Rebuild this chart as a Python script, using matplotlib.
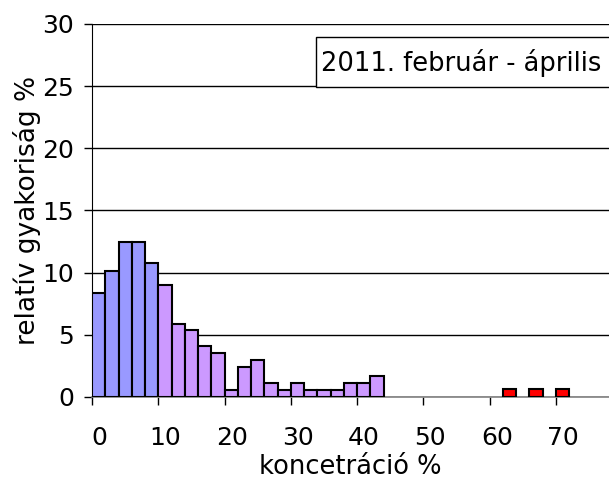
import matplotlib
matplotlib.use("Agg")
import matplotlib.pyplot as plt
import matplotlib.transforms as mtransforms
from matplotlib.patches import Rectangle

# histogram data, bins of width 2 (%)
blue_left = [0, 2, 4, 6, 8]
blue_vals = [8.4, 10.1, 12.5, 12.5, 10.8]
purple_left = [10, 12, 14, 16, 18, 20, 22, 24, 26, 28, 30,
               32, 34, 36, 38, 40, 42]
purple_vals = [9.0, 5.9, 5.4, 4.1, 3.5, 0.6, 2.4, 3.0, 1.1, 0.6, 1.1,
               0.6, 0.6, 0.6, 1.1, 1.1, 1.7]
red_left = [62, 66, 70]
red_vals = [0.65, 0.65, 0.65]
bin_width = 2

xticks = [0, 10, 20, 30, 40, 50, 60, 70]
yticks = [0, 5, 10, 15, 20, 25, 30]
title = "2011. február - április"

plt.rcParams['font.family'] = ['DejaVu Sans']

fig = plt.figure(figsize=(6.09, 4.82), dpi=100)
ax = fig.add_axes([92 / 609, 85 / 482, 1 - 92 / 609, 373 / 482])

ax.bar(blue_left, blue_vals, width=bin_width, align='edge',
       color='#9999FF', edgecolor='black', linewidth=1.5, zorder=3)
ax.bar(purple_left, purple_vals, width=bin_width, align='edge',
       color='#CC99FF', edgecolor='black', linewidth=1.5, zorder=3)
ax.bar(red_left, red_vals, width=bin_width, align='edge',
       color='#FF0000', edgecolor='black', linewidth=1.5, zorder=3)

ax.set_xlim(0, 78)
ax.set_ylim(0, 30)
ax.set_xticks(xticks)
ax.set_yticks(yticks)
ax.yaxis.grid(True, color='black', linewidth=1, zorder=0)

for s in ['top', 'right']:
    ax.spines[s].set_visible(False)
ax.spines['left'].set_color('black')
ax.spines['bottom'].set_color('#808080')
ax.spines['bottom'].set_linewidth(1.2)

ax.tick_params(axis='y', length=6, width=1, labelsize=18, pad=7)
ax.tick_params(axis='x', length=6, width=1, labelsize=18, pad=15)

# shift x tick labels a little to the right like the original
offset = mtransforms.ScaledTranslation(7 / 100, 0, fig.dpi_scale_trans)
for lbl in ax.get_xticklabels():
    lbl.set_transform(lbl.get_transform() + offset)

ax.set_xlabel("koncetráció %", fontsize=18.5, labelpad=3)
ax.set_ylabel("relatív gyakoriság %", fontsize=19, labelpad=1)

# title box in the upper right corner
fig.patches.append(Rectangle((316 / 609, 1 - 87 / 482), 0.5, 50 / 482,
                             transform=fig.transFigure, facecolor='white',
                             edgecolor='black', linewidth=1, zorder=5))
fig.text(321 / 609, 1 - 63 / 482, title, fontsize=18.5, va='center',
         ha='left', zorder=6)

plt.savefig("out.png", dpi=100)
